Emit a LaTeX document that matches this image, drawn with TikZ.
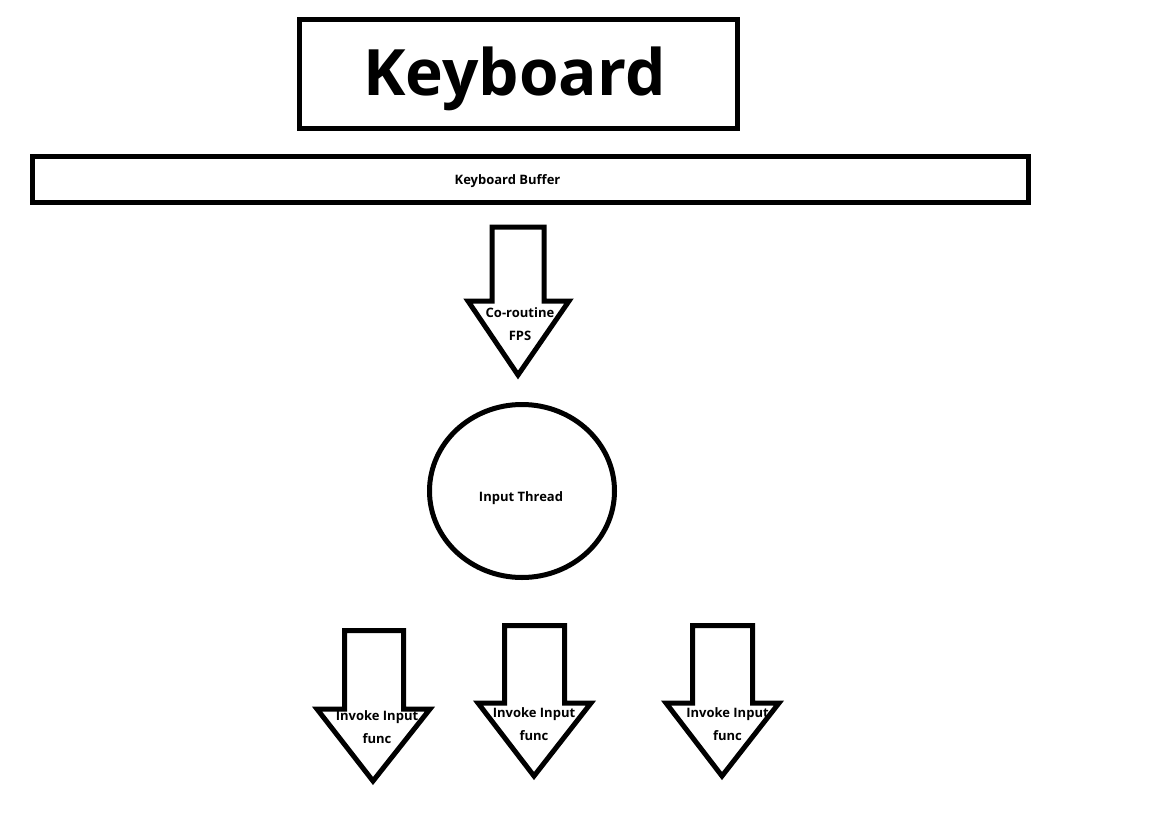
\documentclass[tikz,border=0pt]{standalone}
\usepackage{fontspec}
\setmainfont{Open Sans}
\usetikzlibrary{shapes.geometric}

\begin{document}
\begin{tikzpicture}[x=1pt, y=-1pt, line width=5pt, miter limit=10,
		main/.style={draw, rectangle, line width=5pt, inner sep=0pt},
		txt/.style={font=\fontsize{13}{23}\selectfont\bfseries, inner sep=0pt, align=center}]
		\useasboundingbox (0,0) rectangle (1152,827);

		\node[main, minimum width=438pt, minimum height=109pt] (keyboard) at (518.5,74) {};
		\node[font=\fontsize{64}{70}\selectfont\bfseries, anchor=base, inner sep=0pt] (keyboardtext) at (514.5,95) {Keyboard};

		\node[main, minimum width=996pt, minimum height=46pt] (buffer) at (530.5,179.5) {};
		\node[txt] (buffertext) at (507.5,181) {Keyboard Buffer};

		% co-routine arrow
		\draw (492,227) -- (544,227) -- (544,301) -- (569,301) -- (518,375) -- (468,301) -- (492,301) -- cycle;
		\node[txt] (coroutine) at (520,324.5) {Co-routine\\FPS};

		\node[draw, ellipse, minimum width=185pt, minimum height=173pt, inner sep=0pt] (thread) at (522,491) {};
		\node[txt] (threadtext) at (521,498) {Input Thread};

		% invoke arrows
		\draw (344.5,630.5) -- (403.5,630.5) -- (403.5,709) -- (430,709) -- (373,781) -- (317,709) -- (344.5,709) -- cycle;
		\node[txt] (invoke1) at (377,727) {Invoke Input\\func};

		\draw (504.5,625.5) -- (564.5,625.5) -- (564.5,703) -- (591,703) -- (534,776) -- (478,703) -- (504.5,703) -- cycle;
		\node[txt] (invoke2) at (534,724.5) {Invoke Input\\func};

		\draw (692.5,625.5) -- (752.5,625.5) -- (752.5,703) -- (779,703) -- (722,776) -- (666,703) -- (692.5,703) -- cycle;
		\node[txt] (invoke3) at (727.5,724.5) {Invoke Input\\func};
	\end{tikzpicture}
\end{document}
